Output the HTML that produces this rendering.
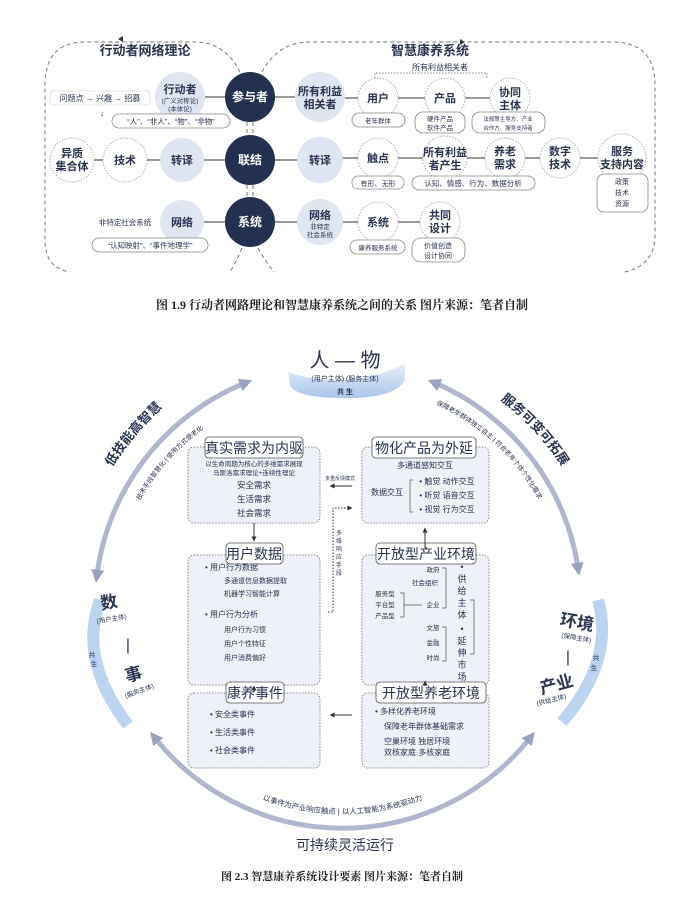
<!DOCTYPE html>
<html><head><meta charset="utf-8"><style>
html,body{margin:0;padding:0;background:#fff;}
svg{display:block;font-family:"Liberation Sans","Noto Sans CJK SC",sans-serif;}
</style></head><body>
<svg width="684" height="912" viewBox="0 0 684 912" xmlns="http://www.w3.org/2000/svg">
<defs>
<linearGradient id="bl" x1="0" y1="0" x2="0" y2="1"><stop offset="0" stop-color="#e6eef9"/><stop offset="1" stop-color="#a9c6ea"/></linearGradient>
<marker id="ah" viewBox="0 0 10 10" refX="4" refY="5" markerWidth="2.6" markerHeight="2.6" orient="auto-start-reverse"><path d="M0,0 L10,5 L0,10 z" fill="#9aa2bf"/></marker>
<marker id="sa" viewBox="0 0 10 10" refX="5" refY="5" markerWidth="5" markerHeight="5" orient="auto-start-reverse"><path d="M0,0 L10,5 L0,10 z" fill="#333"/></marker>
<path id="tpL" d="M 78 560 A 255 255 0 0 1 238 362"/>
<path id="tpL2" d="M 118 560 A 215 215 0 0 1 260 400"/>
<path id="tpR" d="M 448 370 A 250 250 0 0 1 598 560"/>
<path id="tpR2" d="M 425 400 A 215 215 0 0 1 560 560"/>
<path id="tpB" d="M 210 772 A 230 230 0 0 0 475 772"/>
</defs>
<g fill="none" stroke="#777" stroke-width="1" stroke-dasharray="4,3">
<path d="M 240 72 Q 225 42 195 42 H 85 Q 45 42 45 85 V 240 Q 45 268 70 272"/>
<path d="M 262 72 Q 278 42 310 42 H 612 Q 655 42 655 85 V 235 Q 655 265 625 272"/>
<path d="M 242 248 Q 236 262 230 272"/>
<path d="M 258 248 Q 266 262 274 272"/>
<path d="M 247 122 V 135 M 253 122 V 135 M 247 185 V 197 M 253 185 V 197"/>
</g>
<path d="M118 39 l5 -3 v6z M460 39 l5 3 l-5 3z" fill="#333"/>
<g stroke="#999" stroke-width="2">
<line x1="205" y1="97" x2="225" y2="97"/><line x1="275" y1="97" x2="295" y2="97"/>
<line x1="94" y1="160" x2="103" y2="160"/><line x1="147" y1="160" x2="160" y2="160"/><line x1="204" y1="160" x2="225" y2="160"/><line x1="275" y1="160" x2="298" y2="160"/>
<line x1="204" y1="222" x2="225" y2="222"/><line x1="275" y1="222" x2="298" y2="222"/>
<line x1="345" y1="98" x2="358" y2="98"/><line x1="398" y1="98" x2="425" y2="98"/><line x1="465" y1="98" x2="490" y2="98"/>
<line x1="342" y1="158" x2="358" y2="158"/><line x1="398" y1="158" x2="423" y2="158"/><line x1="467" y1="158" x2="485" y2="158"/><line x1="525" y1="158" x2="540" y2="158"/><line x1="580" y1="158" x2="598" y2="158"/>
<line x1="342" y1="222" x2="358" y2="222"/><line x1="398" y1="222" x2="420" y2="222"/>
</g>
<g fill="#dfe5f1">
<circle cx="180" cy="97" r="25"/><circle cx="182" cy="160" r="22"/><circle cx="182" cy="222" r="22"/>
<circle cx="320" cy="97" r="25"/><circle cx="320" cy="160" r="23"/><circle cx="320" cy="222" r="23"/>
</g>
<g fill="#fff" stroke="#aaa" stroke-dasharray="1.5,1.5">
<circle cx="72" cy="160" r="22"/><circle cx="125" cy="160" r="22"/>
<circle cx="378" cy="98" r="20"/><circle cx="445" cy="98" r="20"/><circle cx="510" cy="98" r="20"/>
<circle cx="378" cy="158" r="20"/><circle cx="445" cy="158" r="22"/><circle cx="505" cy="158" r="20"/><circle cx="560" cy="158" r="20"/><circle cx="622" cy="158" r="24"/>
<circle cx="378" cy="222" r="20"/><circle cx="440" cy="222" r="20"/>
</g>
<path d="M375 78 V73 H487 V78" fill="none" stroke="#888" stroke-dasharray="1.5,1.5"/>
<g fill="#23304f"><circle cx="250" cy="97" r="25"/><circle cx="250" cy="160" r="25"/><circle cx="250" cy="222" r="25"/></g>
<g fill="#fff" stroke="#888" stroke-width="0.8">
<rect x="50" y="91" width="100" height="14" rx="3" stroke="#ddd"/>
<rect x="112" y="114" width="118" height="14" rx="7"/>
<rect x="92" y="238" width="116" height="14" rx="7"/>
<rect x="352" y="113" width="53" height="14" rx="7"/>
<rect x="415" y="112" width="50" height="21" rx="8"/>
<rect x="472" y="112" width="73" height="21" rx="8"/>
<rect x="352" y="176" width="52" height="13" rx="6"/>
<rect x="412" y="176" width="123" height="14" rx="7"/>
<rect x="597" y="174" width="51" height="38" rx="7"/>
<rect x="350" y="240" width="55" height="14" rx="7"/>
<rect x="412" y="238" width="53" height="24" rx="9"/>
</g>
<g fill="#2a3350" font-weight="bold" text-anchor="middle">
<text x="145" y="55" font-size="13">行动者网络理论</text>
<text x="430" y="55" font-size="13">智慧康养系统</text>
<text x="440" y="70" font-size="8" font-weight="normal">所有利益相关者</text>
<text x="100" y="101" font-size="8" font-weight="normal">问题点 → 兴趣 → 招募</text>
<text x="102" y="116" font-size="8" font-weight="normal">↓</text>
<text x="180" y="93" font-size="11">行动者</text>
<text x="180" y="103" font-size="6.5" font-weight="normal">(广义对称论)</text>
<text x="180" y="111" font-size="6.5" font-weight="normal">(本体论)</text>
<text x="171" y="124" font-size="7.5" font-weight="normal">“人”、“非人”、“物”、“非物”</text>
<text x="72" y="157" font-size="11">异质</text><text x="72" y="170" font-size="11">集合体</text>
<text x="125" y="164" font-size="11">技术</text>
<text x="182" y="164" font-size="11">转译</text>
<text x="125" y="225" font-size="7.5" font-weight="normal">非特定社会系统</text>
<text x="182" y="226" font-size="11">网络</text>
<text x="150" y="248" font-size="7.5" font-weight="normal">“认知映射”、“事件地理学”</text>
<g fill="#fff" font-size="12"><text x="250" y="101">参与者</text><text x="250" y="164">联结</text><text x="250" y="226">系统</text></g>
<text x="320" y="95" font-size="11">所有利益</text><text x="320" y="108" font-size="11">相关者</text>
<text x="320" y="164" font-size="11">转译</text>
<text x="320" y="219" font-size="11">网络</text>
<text x="320" y="229" font-size="6.5" font-weight="normal">非特定</text><text x="320" y="237" font-size="6.5" font-weight="normal">社会系统</text>
<text x="378" y="102" font-size="11">用户</text>
<text x="445" y="102" font-size="11">产品</text>
<text x="510" y="96" font-size="11">协同</text><text x="510" y="109" font-size="11">主体</text>
<text x="378" y="123" font-size="6.5" font-weight="normal">老年群体</text>
<text x="440" y="121" font-size="6.5" font-weight="normal">硬件产品</text><text x="440" y="130" font-size="6.5" font-weight="normal">软件产品</text>
<text x="508" y="121" font-size="5.5" font-weight="normal">法规策主导方、产业</text><text x="508" y="130" font-size="5.5" font-weight="normal">合作方、服务支持者</text>
<text x="378" y="162" font-size="11">触点</text>
<text x="445" y="156" font-size="11">所有利益</text><text x="445" y="169" font-size="11">者产生</text>
<text x="505" y="155" font-size="11">养老</text><text x="505" y="168" font-size="11">需求</text>
<text x="560" y="155" font-size="11">数字</text><text x="560" y="168" font-size="11">技术</text>
<text x="622" y="155" font-size="11">服务</text><text x="622" y="168" font-size="11">支持内容</text>
<text x="378" y="186" font-size="7" font-weight="normal">有形、无形</text>
<text x="473" y="186" font-size="7.5" font-weight="normal">认知、情感、行为、数据分析</text>
<text x="622" y="184" font-size="7" font-weight="normal">政策</text><text x="622" y="195" font-size="7" font-weight="normal">技术</text><text x="622" y="206" font-size="7" font-weight="normal">资源</text>
<text x="378" y="226" font-size="11">系统</text>
<text x="440" y="219" font-size="11">共同</text><text x="440" y="232" font-size="11">设计</text>
<text x="378" y="250" font-size="6.5" font-weight="normal">康养服务系统</text>
<text x="438" y="248" font-size="7" font-weight="normal">价值创造</text><text x="438" y="258" font-size="7" font-weight="normal">设计协同</text>
</g>
<text x="342" y="309" font-size="12" font-weight="bold" text-anchor="middle" fill="#222" font-family="Liberation Serif,Noto Serif CJK SC,serif">图 1.9 行动者网路理论和智慧康养系统之间的关系   图片来源：笔者自制</text>

<g fill="none" stroke="#b0b6cd" stroke-width="5" marker-start="url(#ah)" marker-end="url(#ah)">
<path d="M 97 575 A 240 240 0 0 1 245 383"/>
<path d="M 435 383 A 240 240 0 0 1 578 568"/>
<path d="M 155 738 A 240 240 0 0 0 530 738"/>
</g>
<path d="M 288 372 Q 345 392 405 364 L 405 378 Q 400 398 345 398 Q 295 398 290 385 Z" fill="url(#bl)"/>
<path d="M 100 600 Q 78 660 128 725" fill="none" stroke="#bcd4f0" stroke-width="12"/>
<path d="M 598 600 Q 615 660 562 722" fill="none" stroke="#bcd4f0" stroke-width="12"/>
<g fill="#2a3350" text-anchor="middle">
<text x="345" y="367" font-size="20">人 — 物</text>
<text x="345" y="381" font-size="7">(用户主体)   (服务主体)</text>
<text x="345" y="394" font-size="7" font-weight="bold">共 生</text>
<text x="110" y="608" font-size="17" font-weight="bold" transform="rotate(-10 110 608)">数</text>
<text x="112" y="621" font-size="6.5" transform="rotate(-10 112 621)">(用户主体)</text>
<text x="128" y="650" font-size="16">|</text>
<text x="135" y="680" font-size="17" font-weight="bold" transform="rotate(-15 135 680)">事</text>
<text x="140" y="693" font-size="6.5" transform="rotate(-20 140 693)">(服务主体)</text>
<text x="92" y="657" font-size="6.5">共</text><text x="94" y="666" font-size="6.5">生</text>
<text x="576" y="628" font-size="17" font-weight="bold" transform="rotate(10 576 628)">环境</text>
<text x="576" y="640" font-size="6.5" transform="rotate(10 576 640)">(保障主体)</text>
<text x="568" y="662" font-size="16">|</text>
<text x="558" y="690" font-size="17" font-weight="bold" transform="rotate(-15 558 690)">产业</text>
<text x="552" y="702" font-size="6.5" transform="rotate(-15 552 702)">(供给主体)</text>
<text x="596" y="660" font-size="6.5">共</text><text x="594" y="670" font-size="6.5">生</text>
<text font-size="13" font-weight="bold"><textPath href="#tpL" startOffset="52%">低技能高智慧</textPath></text>
<text font-size="6.5"><textPath href="#tpL2" startOffset="50%">技术手段智慧化 | 使用方式便老化</textPath></text>
<text font-size="13" font-weight="bold"><textPath href="#tpR" startOffset="42%">服务可变可拓展</textPath></text>
<text font-size="6.5"><textPath href="#tpR2" startOffset="38%">保障老年群体独立自主 | 符合老年个体个性化需求</textPath></text>
<text font-size="7.5"><textPath href="#tpB" startOffset="50%">以事件为产业响应触点 | 以人工智能为系统驱动力</textPath></text>
<text x="345" y="850" font-size="14">可持续灵活运行</text>
</g>
<g fill="#eef1f8" stroke="#888" stroke-dasharray="1.5,1.5">
<rect x="188" y="447" width="132" height="76" rx="6"/>
<rect x="188" y="555" width="132" height="130" rx="6"/>
<rect x="188" y="693" width="132" height="75" rx="6"/>
<rect x="362" y="447" width="127" height="76" rx="6"/>
<rect x="362" y="555" width="127" height="130" rx="6"/>
<rect x="362" y="693" width="127" height="75" rx="6"/>
</g>
<g fill="#fff" stroke="#555" stroke-width="0.8">
<rect x="205" y="437" width="98" height="21" rx="4"/>
<rect x="226" y="543" width="57" height="21" rx="4"/>
<rect x="226" y="682" width="58" height="21" rx="4"/>
<rect x="372" y="437" width="104" height="21" rx="4"/>
<rect x="376" y="543" width="100" height="21" rx="4"/>
<rect x="376" y="682" width="110" height="21" rx="4"/>
</g>
<g stroke="#333" stroke-width="1" marker-end="url(#sa)" fill="none">
<line x1="254" y1="523" x2="254" y2="539"/>
<line x1="254" y1="692" x2="254" y2="688"/>
<line x1="425" y1="548" x2="425" y2="530"/>
<line x1="425" y1="686" x2="425" y2="683"/>
<line x1="352" y1="486" x2="332" y2="486"/>
<line x1="352" y1="715" x2="332" y2="715"/>
<path d="M 328 612 H 333 V 508 H 350" stroke-dasharray="1.5,1.5"/>
</g>
<g fill="#2a3350" text-anchor="middle">
<text x="254" y="453" font-size="14">真实需求为内驱</text>
<text x="254" y="559" font-size="14">用户数据</text>
<text x="255" y="698" font-size="14">康养事件</text>
<text x="424" y="453" font-size="14">物化产品为外延</text>
<text x="426" y="559" font-size="14">开放型产业环境</text>
<text x="431" y="698" font-size="14">开放型养老环境</text>
<text x="254" y="466" font-size="6.5">以生命周期为核心的多维需求展现</text>
<text x="254" y="475" font-size="6.5">马斯洛需求理论+连续性理论</text>
<text x="254" y="488" font-size="8.5">安全需求</text>
<text x="254" y="502" font-size="8.5">生活需求</text>
<text x="254" y="516" font-size="8.5">社会需求</text>
<text x="340" y="480" font-size="5">多重反馈模式</text>
<text x="425" y="468" font-size="8">多通道感知交互</text>
<text x="387" y="495" font-size="8">数据交互</text>
<text x="447" y="484" font-size="8">• 触觉  动作交互</text>
<text x="447" y="498" font-size="8">• 听觉  语音交互</text>
<text x="447" y="512" font-size="8">• 视觉  行为交互</text>
<path d="M 413 480 h-3 v32 h3" fill="none" stroke="#555" stroke-width="0.7"/>
<g font-size="6" text-anchor="middle"><text x="339" y="535">多</text><text x="339" y="543">维</text><text x="339" y="551">响</text><text x="339" y="559">应</text><text x="339" y="567">手</text><text x="339" y="575">段</text></g>
<g text-anchor="start">
<text x="205" y="570" font-size="8">•  用户行为数据</text>
<text x="224" y="583" font-size="7">多通道信息数据提取</text>
<text x="224" y="596" font-size="7">机器学习智能计算</text>
<text x="205" y="617" font-size="8">•  用户行为分析</text>
<text x="224" y="632" font-size="7">用户行为习惯</text>
<text x="224" y="646" font-size="7">用户个性特征</text>
<text x="224" y="660" font-size="7">用户消费偏好</text>
<text x="210" y="717" font-size="8">•  安全类事件</text>
<text x="210" y="735" font-size="8">•  生活类事件</text>
<text x="210" y="753" font-size="8">•  社会类事件</text>
<text x="375" y="714" font-size="8">•  多样化养老环境</text>
<text x="384" y="729" font-size="8">保障老年群体基础需求</text>
<text x="384" y="744" font-size="8">空巢环境  独居环境</text>
<text x="384" y="755" font-size="8">双核家庭  多核家庭</text>
</g>
<g font-size="6.5">
<text x="433" y="572">政府</text><text x="425" y="585">社会组织</text>
<text x="385" y="596">服务型</text><text x="385" y="607">平台型</text><text x="385" y="618">产品型</text>
<text x="433" y="607">企业</text>
<text x="433" y="630">文旅</text><text x="433" y="645">金融</text><text x="433" y="660">时尚</text>
</g>
<g font-size="9"><text x="462" y="570">•</text><text x="462" y="582">供</text><text x="462" y="594">给</text><text x="462" y="606">主</text><text x="462" y="618">体</text>
<text x="462" y="632">•</text><text x="462" y="644">延</text><text x="462" y="656">伸</text><text x="462" y="668">市</text><text x="462" y="680">场</text></g>
<g fill="none" stroke="#555" stroke-width="0.7">
<path d="M 442 568 h4 v40 h-4 M 400 593 h4 v24 h-4 M 404 605 h18 M 442 627 h4 v34 h-4 M 470 600 h4 v54 h-4"/>
</g>
</g>
<text x="342" y="880" font-size="11" font-weight="bold" text-anchor="middle" fill="#222" font-family="Liberation Serif,Noto Serif CJK SC,serif">图 2.3 智慧康养系统设计要素   图片来源：笔者自制</text>
</svg>
</body></html>
